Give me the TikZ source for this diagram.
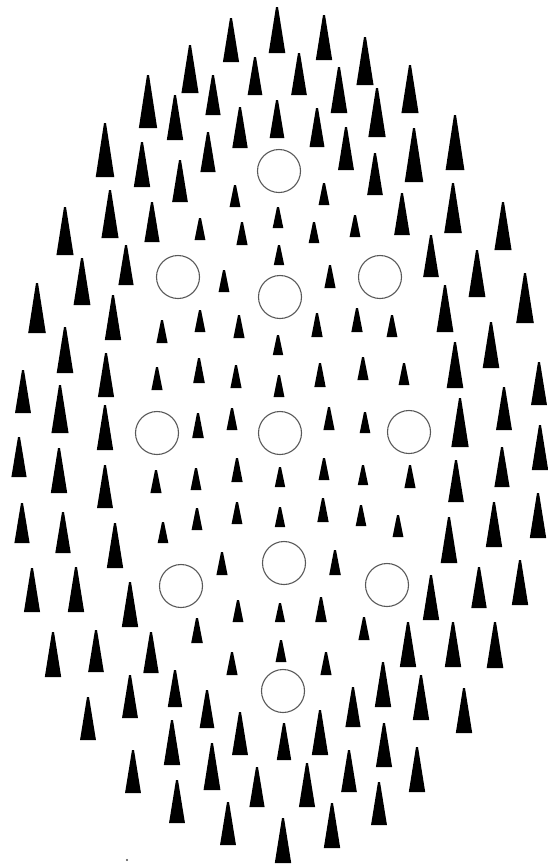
\documentclass[tikz,border=0pt]{standalone}
\begin{document}
\begin{tikzpicture}[x=1pt,y=-1pt,
  ring/.style={draw=black!65,line width=1.1pt}]
\useasboundingbox (0,0) rectangle (547,868);
\fill[white] (0,0) rectangle (547,868);
\foreach \x/\t/\b in {
277/7/53, 231/18/62, 324/15/60, 190/45/93, 255/57/95, 299/53/95, 365/37/85,
148/75/128, 213/75/115, 339/67/113, 410/65/113, 175/95/140, 277/100/138,
240/107/148, 317/108/147, 377/88/137, 105/123/177, 142/142/187, 208/132/172,
346/127/170, 414/128/182, 455/115/170, 180/160/202, 375/153/195, 235/185/207,
324/183/205,
65/207/255, 110/190/238, 152/202/242, 200/218/240, 242/222/245, 278/207/228,
314/222/243, 355/215/237, 402/193/235, 453/183/233, 503/202/250,
82/258/305, 126/245/285, 224/270/292, 279/245/265, 330/265/288, 431/235/277,
477/250/297, 525/273/323,
37/283/333, 113/295/340, 162/320/343, 200/310/332, 239/315/338, 278/335/355,
317/313/337, 357/308/332, 392/315/337, 445/285/332, 491/322/368,
65/327/373, 106/353/397, 157/367/390, 199/358/383, 236/365/388, 279/375/397,
320/363/387, 363/357/380, 404/363/385, 455/342/388, 539/362/405, 23/370/413,
60/385/433, 105/405/450, 198/413/438, 232/408/430, 329/407/430, 365/412/433,
460/398/447, 504/387/430, 540/425/470,
19/437/477, 59/448/493, 105/465/508, 156/470/493, 196/468/490, 237/458/482,
280/467/487, 324/458/480, 363/465/485, 410/465/488, 456/460/502, 502/447/487,
22/503/543, 63/512/553, 115/523/568, 163/522/543, 197/508/530, 237/502/524,
280/507/527, 323/498/522, 361/505/526, 398/515/537, 449/517/563, 494/502/547,
538/493/538,
32/568/612, 76/567/612, 222/552/575, 335/550/575, 431/575/620, 479/567/608,
520/560/605, 130/582/627, 238/600/622, 280/603/622, 321/597/622,
53/632/677, 96/630/672, 151/632/673, 197/618/643, 232/652/675, 281/640/662,
326/652/675, 364/617/640, 408/622/667, 453/622/667, 495/622/668,
88/697/740, 130/675/718, 175/670/707, 207/690/728, 240/712/755, 353/687/727,
383/662/707, 421/675/720, 464/688/733, 284/723/760, 320/710/755, 172/720/765,
133/750/793, 212/743/790, 257/767/807, 349/750/792, 384/723/767, 417/747/792,
307/763/807, 177/780/823, 379/782/825, 228/802/845, 332/803/848, 283/818/863}
{
  \pgfmathsetmacro\w{0.12*(\b-\t)+2.8}
  \fill[black] (\x-\w,\b) -- (\x-1,\t) -- (\x+1,\t) -- (\x+\w,\b) -- cycle;
}
\foreach \x/\y in {279/171, 178/277, 380/277, 280/297, 157/433, 280/433,
  409/432, 181/586, 284/563, 387/585, 283/691}
{
  \draw[ring] (\x,\y) circle[radius=21.5pt];
}
\fill[black!70] (127,860) circle[radius=1.2pt];
\end{tikzpicture}
\end{document}
